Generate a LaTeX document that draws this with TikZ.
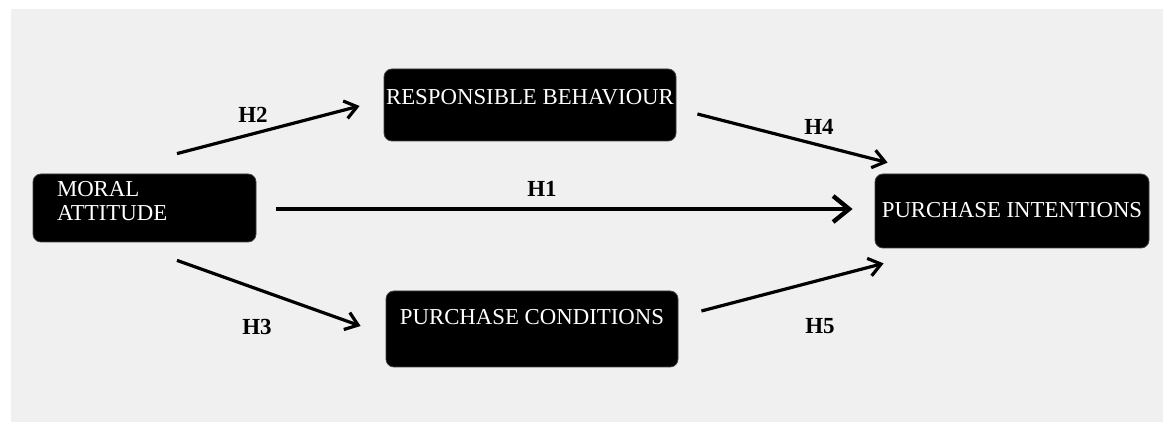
\documentclass[tikz,border=0pt]{standalone}
\usepackage{fontspec}
\setmainfont{Liberation Serif}
\usepackage{tikz}
\usetikzlibrary{arrows.meta,calc}
\definecolor{paper}{RGB}{240,240,240}

\begin{document}
\begin{tikzpicture}[x=0.5pt,y=-0.5pt,
    box/.style={fill=black,draw=black!75,rounded corners=4pt,text=white,
      font=\fontsize{11.4}{12}\selectfont,inner sep=0pt},
    hyp/.style={font=\fontsize{11.5}{12}\selectfont\bfseries},
    link/.style={line width=1.6pt,-{Straight Barb[length=6pt,width=9pt,line width=1.6pt]}},
    mainlink/.style={line width=2.2pt,-{Straight Barb[length=8pt,width=13pt,line width=2.2pt]}}]
    % Canvas (white strip at top and left, grey panel)
    \useasboundingbox (0,0) rectangle (1163,422);
    \fill[paper] (11,9) rectangle (1163,422);
    % Constructs
    \node[box,minimum width=111.5pt,minimum height=34pt,text width=87.5pt,
      align=left,text depth=19.5pt] (moral) at (144.5,208) {MORAL\\ATTITUDE};
    \node[box,minimum width=146pt,minimum height=36pt,text height=7pt,
      text depth=7pt] (resp) at (530,105) {RESPONSIBLE BEHAVIOUR};
    \node[box,minimum width=146pt,minimum height=38pt,text height=7pt,
      text depth=11.5pt] (cond) at (532,329) {PURCHASE CONDITIONS};
    \node[box,minimum width=137pt,minimum height=37pt,text height=7pt,
      text depth=0pt] (intent) at (1012,211) {PURCHASE INTENTIONS};
    % Arrow ends (arrows stop short of the boxes)
    \coordinate (h1a) at ($(moral.east)+(20,1)$);
    \coordinate (h1b) at ($(intent.west)+(-22,-2)$);
    \coordinate (h2a) at ($(moral.north)+(32.5,-20)$);
    \coordinate (h2b) at ($(resp.west)+(-24,1)$);
    \coordinate (h3a) at ($(moral.south)+(32.5,18)$);
    \coordinate (h3b) at ($(cond.west)+(-25,-3)$);
    \coordinate (h4a) at ($(resp.east)+(21,9)$);
    \coordinate (h4b) at ($(intent.north west)+(13,-11)$);
    \coordinate (h5a) at ($(cond.east)+(23,-18)$);
    \coordinate (h5b) at ($(intent.south west)+(9,15)$);
    % Hypotheses
    \draw[mainlink] (h1a) -- (h1b);
    \draw[link] (h2a) -- (h2b);
    \draw[link] (h3a) -- (h3b);
    \draw[link] (h4a) -- (h4b);
    \draw[link] (h5a) -- (h5b);
    \node[hyp] (lh1) at (542,189) {H1};
    \node[hyp] (lh2) at (253,115) {H2};
    \node[hyp] (lh3) at (257,327) {H3};
    \node[hyp] (lh4) at (819,127) {H4};
    \node[hyp] (lh5) at (820,326) {H5};
\end{tikzpicture}
\end{document}
